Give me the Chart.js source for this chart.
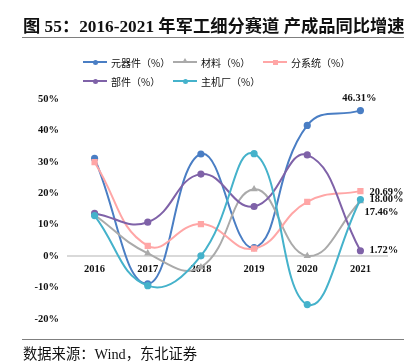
<!DOCTYPE html>
<html>
<head>
<meta charset="utf-8">
<script src="https://cdn.jsdelivr.net/npm/chart.js@4.4.1/dist/chart.umd.min.js"></script>
<style>
body { margin: 0; width: 415px; height: 363px; background: #fff; position: relative; overflow: hidden; }
#myChart { position: absolute; left: 0; top: 0; }
#title { position: absolute; left: 23px; top: 12px; font: bold 17.3px "Liberation Serif", "Noto Sans CJK SC"; color: #111; white-space: nowrap; }
.rule { position: absolute; left: 22px; width: 382px; height: 1px; background: #7f7f7f; }
#legend { position: absolute; left: 0; top: 0; }
.item { position: absolute; height: 14px; display: flex; align-items: center; white-space: nowrap; font: 10px "Noto Sans CJK SC"; color: #111; }
.swatch { position: relative; width: 24px; height: 2px; margin-right: 4px; }
.mark { position: absolute; left: 9.5px; top: -1.5px; width: 5px; height: 5px; }
#source { position: absolute; left: 23px; top: 342px; font: 14.3px "Liberation Serif", "Noto Sans CJK SC"; color: #111; white-space: nowrap; }
</style>
</head>
<body>
<canvas id="myChart" width="415" height="363"></canvas>
<div id="title">图 55：2016-2021 年军工细分赛道 产成品同比增速</div>
<div class="rule" style="top:37px"></div>
<div id="legend"></div>
<div class="rule" style="top:339px"></div>
<div id="source">数据来源：Wind，东北证券</div>
<script>
var years = ["2016", "2017", "2018", "2019", "2020", "2021"];
var seriesNames = ["元器件（%）", "材料（%）", "分系统（%）", "部件（%）", "主机厂（%）"];
var components = [31.1, -8.8, 32.5, 2.7, 41.6, 46.31];
var materials = [13.1, 0.9, -3.5, 21.3, 0.1, 17.46];
var subsystems = [29.9, 3.3, 10.2, 2.4, 17.3, 20.69];
var parts = [13.6, 10.8, 26.1, 15.8, 32.2, 1.72];
var oems = [12.9, -9.4, 0.1, 32.6, -15.4, 18.00];
var yTicks = [-20, -10, 0, 10, 20, 30, 40, 50];

window.onload = function()
{
    var ctx = document.getElementById("myChart").getContext("2d");

    var values = [components, materials, subsystems, parts, oems];
    var colors = ['#4a7ec4', '#aaaaaa', '#ffa6a6', '#7f62a8', '#45b2cb'];
    var shapes = ['circle', 'triangle', 'rect', 'circle', 'circle'];
    var radii = [2.6, 2.2, 3, 2.6, 2.6];

    // where each end label sits relative to the last point
    var labelOffsets = [[-1, -12, 'center'], [4, 11, 'left'], [9, 1, 'left'], [9, 0, 'left'], [9, 0, 'left']];

    var datasets = values.map(function(vals, i)
    {
        return {
            label: seriesNames[i],
            data: vals,
            borderColor: colors[i],
            backgroundColor: colors[i],
            borderWidth: 2,
            pointStyle: shapes[i],
            pointRadius: radii[i],
            pointHoverRadius: radii[i],
            tension: 0.45,
            order: 5 - i
        };
    });

    var endLabels =
    {
        id: 'endLabels',
        afterDatasetsDraw: function(chart)
        {
            var c = chart.ctx;
            c.save();
            c.font = 'bold 10.5px "Liberation Serif"';
            c.fillStyle = '#111';
            c.textBaseline = 'middle';
            chart.data.datasets.forEach(function(ds, i)
            {
                var meta = chart.getDatasetMeta(i);
                var pt = meta.data[meta.data.length - 1];
                var off = labelOffsets[i];
                c.textAlign = off[2];
                c.fillText(ds.data[ds.data.length - 1].toFixed(2) + '%', pt.x + off[0], pt.y + off[1]);
            });
            c.restore();
        }
    };

    var myChart = new Chart(ctx,
    {
        type: 'line',
        data:
        {
            labels: years,
            datasets: datasets
        },
        options:
        {
            responsive: false,
            animation: false,
            layout: { padding: { top: 99, bottom: 44, right: 28, left: 0 } },
            plugins:
            {
                legend: { display: false },
                tooltip: { enabled: false }
            },
            scales:
            {
                x:
                {
                    position: { y: 0 },
                    offset: true,
                    grid: { display: false, drawTicks: false },
                    border: { color: '#d9d9d9', width: 2 },
                    ticks:
                    {
                        padding: 7,
                        color: '#111',
                        font: { family: 'Liberation Serif', weight: 'bold', size: 10.5 }
                    }
                },
                y:
                {
                    min: yTicks[0],
                    max: yTicks[yTicks.length - 1],
                    afterFit: function(scale) { scale.width = 68; },
                    afterBuildTicks: function(scale)
                    {
                        scale.ticks = yTicks.map(function(v) { return { value: v }; });
                    },
                    grid: { display: false, drawTicks: false },
                    border: { display: false },
                    ticks:
                    {
                        padding: 9,
                        color: '#111',
                        font: { family: 'Liberation Serif', weight: 'bold', size: 10.5 },
                        callback: function(v) { return v + '%'; }
                    }
                }
            }
        },
        plugins: [endLabels]
    });

    // legend, two rows like the original
    var legend = document.getElementById('legend');
    var spots = [[83, 55], [173, 55], [263, 55], [83, 74], [173, 74]];
    for (var i = 0; i < seriesNames.length; i++)
    {
        var item = document.createElement('div');
        item.className = 'item';
        item.style.left = spots[i][0] + 'px';
        item.style.top = spots[i][1] + 'px';
        var sw = document.createElement('span');
        sw.className = 'swatch';
        sw.style.background = colors[i];
        var mk = document.createElement('span');
        mk.className = 'mark';
        if (shapes[i] == 'circle')
        {
            mk.style.background = colors[i];
            mk.style.borderRadius = '50%';
        }
        else if (shapes[i] == 'rect')
        {
            mk.style.background = colors[i];
        }
        else
        {
            mk.style.width = '0';
            mk.style.height = '0';
            mk.style.top = '-3px';
            mk.style.left = '9px';
            mk.style.borderLeft = '3px solid transparent';
            mk.style.borderRight = '3px solid transparent';
            mk.style.borderBottom = '5px solid ' + colors[i];
        }
        sw.appendChild(mk);
        item.appendChild(sw);
        item.appendChild(document.createTextNode(seriesNames[i]));
        legend.appendChild(item);
    }
}
</script>
</body>
</html>
